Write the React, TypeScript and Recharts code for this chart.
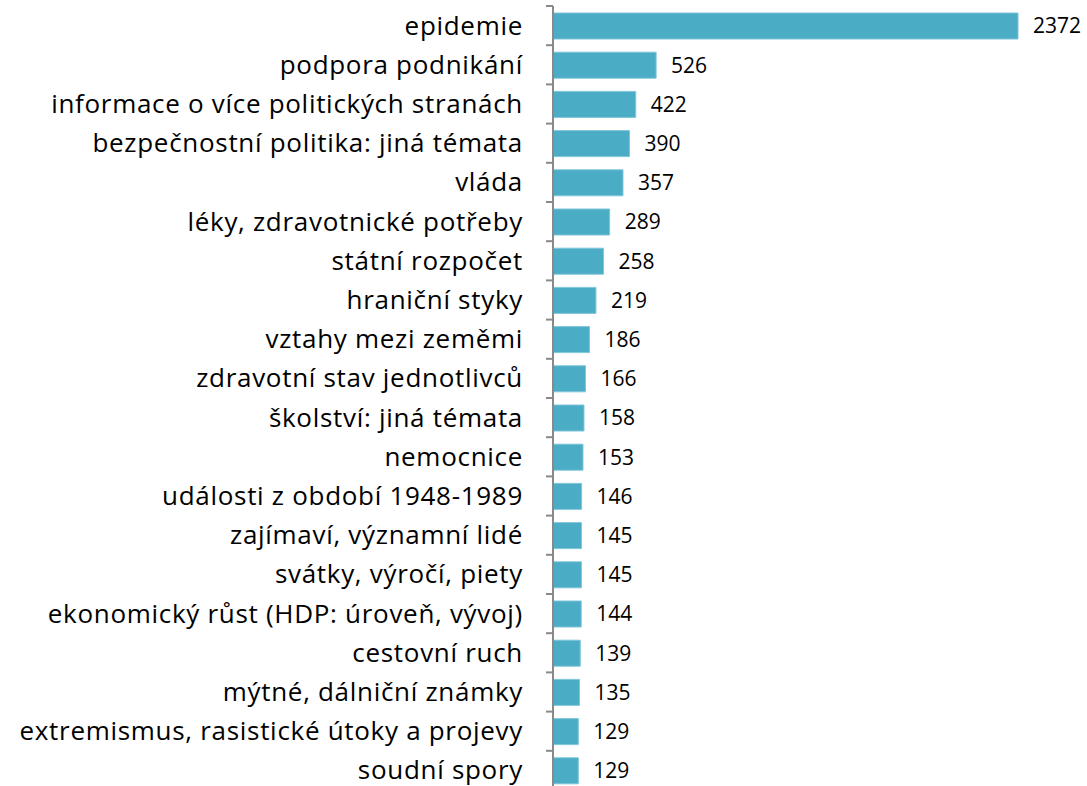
import { BarChart, Bar, XAxis, YAxis, LabelList } from 'recharts';

const categories = [
  'epidemie',
  'podpora podnikání',
  'informace o více politických stranách',
  'bezpečnostní politika: jiná témata',
  'vláda',
  'léky, zdravotnické potřeby',
  'státní rozpočet',
  'hraniční styky',
  'vztahy mezi zeměmi',
  'zdravotní stav jednotlivců',
  'školství: jiná témata',
  'nemocnice',
  'události z období 1948-1989',
  'zajímaví, významní lidé',
  'svátky, výročí, piety',
  'ekonomický růst (HDP: úroveň, vývoj)',
  'cestovní ruch',
  'mýtné, dálniční známky',
  'extremismus, rasistické útoky a projevy',
  'soudní spory',
];
const counts = [2372, 526, 422, 390, 357, 289, 258, 219, 186, 166, 158, 153, 146, 145, 145, 144, 139, 135, 129, 129];

const data = categories.map((name, i) => ({ name, value: counts[i] }));

const FONT = '"Open Sans", sans-serif';
const BAND = 39.2;

const CategoryTick = (props: any) => {
  const { x, y, payload } = props;
  const axisX = x + 23 + 7;
  return (
    <g>
      <line x1={axisX - 7} x2={axisX} y1={y - BAND / 2} y2={y - BAND / 2} stroke="#898989" strokeWidth={2} />
      <text x={x} y={y} dy={9} textAnchor="end" fill="#000" fontSize={26} letterSpacing={0.7} fontFamily={FONT}>
        {payload.value}
      </text>
    </g>
  );
};

const App = () => {
  return (
    <div style={{ position: 'absolute', left: 0, top: 0 }}>
      <BarChart
        width={1087}
        height={792}
        data={data}
        layout="vertical"
        margin={{ top: 6, right: 69, bottom: 2, left: 0 }}
        barSize={26}
      >
        <XAxis type="number" domain={[0, 2372]} hide />
        <YAxis
          type="category"
          dataKey="name"
          width={553}
          axisLine={{ stroke: '#898989', strokeWidth: 2 }}
          tickLine={false}
          tickSize={7}
          tickMargin={23}
          interval={0}
          tick={<CategoryTick />}
        />
        <Bar dataKey="value" fill="#4BACC6" stroke="#7fc6d9" strokeWidth={1} isAnimationActive={false}>
          <LabelList dataKey="value" position="right" offset={15} fill="#000" fontSize={21} fontFamily={FONT} />
        </Bar>
      </BarChart>
    </div>
  );
};

export default App;
